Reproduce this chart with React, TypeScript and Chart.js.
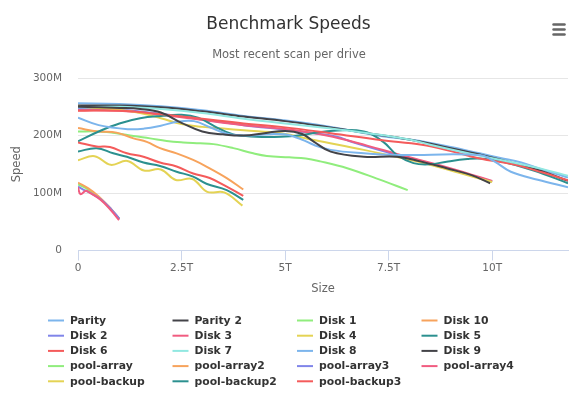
import React, { useEffect, useRef } from "react";
import { Chart, registerables } from "chart.js";

Chart.register(...registerables);

type Pt = [number, number]; // [size in T, speed in M]

const chartTitle = "Benchmark Speeds";
const chartSubtitle = "Most recent scan per drive";

const seriesNames = [
  "Parity", "Parity 2", "Disk 1", "Disk 10", "Disk 2", "Disk 3", "Disk 4",
  "Disk 5", "Disk 6", "Disk 7", "Disk 8", "Disk 9", "pool-array", "pool-array2",
  "pool-array3", "pool-array4", "pool-backup", "pool-backup2", "pool-backup3",
];

const palette = [
  "#7cb5ec", "#434348", "#90ed7d", "#f7a35c", "#8085e9",
  "#f15c80", "#e4d354", "#2b908f", "#f45b5b", "#91e8e1",
];

const parity: Pt[] = [[0, 256], [1, 255], [2, 251], [3, 244], [4, 234], [4.9, 227], [6, 216], [7.3, 199], [8.1, 192], [9, 180], [9.7, 169], [10.2, 161], [10.7, 153], [11.2, 141], [11.83, 127]];
const parity2: Pt[] = [[0, 252], [1, 252], [2, 249], [3, 242], [4, 233], [5, 225], [6, 215], [7, 204], [8, 193], [9, 178], [9.7, 167], [10.5, 152], [11.2, 138], [11.83, 121]];
const disk1: Pt[] = [[0, 207], [0.5, 207], [0.93, 204], [1.34, 199], [1.74, 195], [2.14, 190.5], [2.54, 188], [2.95, 186.5], [3.27, 185], [3.75, 178], [4.23, 169], [4.56, 164.5], [5.1, 162], [5.5, 160], [5.85, 155], [6.5, 143], [7.2, 125.5], [7.96, 105]];
const disk10: Pt[] = [[0, 213], [0.48, 207], [0.93, 205], [1.34, 195], [1.66, 189], [1.98, 178], [2.38, 169], [2.78, 157.5], [3.1, 146], [3.59, 126], [3.99, 106]];
const disk2: Pt[] = [[0, 246], [1, 245], [2, 238], [3, 228], [4, 218], [5, 210], [5.7, 204], [6.25, 198], [6.6, 189], [7.5, 170], [8.5, 150], [9.3, 135], [10, 120]];
const disk3: Pt[] = [[0, 244], [1, 243], [2, 236], [3, 227], [4, 218], [4.9, 212], [6, 200], [7, 182], [7.7, 168], [8.9, 145], [9.5, 132], [10, 121]];
const disk4: Pt[] = [[0, 250], [0.5, 248], [1, 245], [1.5, 239], [2, 230], [2.5, 220], [3, 215], [3.5, 212], [4, 209], [4.9, 204], [5.7, 192], [6.9, 175], [7.86, 160], [8.5, 149], [9.2, 135], [10, 119]];
const disk5: Pt[] = [[0, 190], [0.5, 207], [1, 221], [1.5, 230], [2, 234], [2.5, 236], [2.9, 231], [3.3, 216], [3.75, 202], [4.3, 198], [4.9, 198], [5.4, 201], [6.1, 208], [6.9, 207], [7.37, 189], [7.7, 166], [8.1, 152], [8.5, 150], [8.9, 154.5], [9.4, 159], [9.7, 160], [10.2, 155], [11, 139], [11.83, 117]];
const disk6: Pt[] = [[0, 243], [1, 243], [2, 237], [3, 229], [4, 221], [4.9, 215], [6.1, 204], [7.3, 192], [8.3, 184], [9, 173], [9.7, 160], [10.5, 150], [11.2, 136], [11.83, 122]];
const disk7: Pt[] = [[0, 249], [1, 250], [2, 246], [3, 239], [4, 229], [5, 221], [6, 213], [7, 204], [8, 193], [8.5, 184], [9.5, 168], [10.5, 153], [11.2, 142], [11.83, 130]];
const disk8: Pt[] = [[0, 231], [0.5, 218], [1.2, 211], [1.6, 212], [2, 217], [2.4, 224], [2.8, 225], [3.2, 214], [3.6, 203], [4, 200], [4.6, 202], [5, 202], [5.4, 193], [5.7, 183.5], [6.1, 175], [6.9, 169], [7.7, 166], [9.7, 166], [10.05, 155], [10.45, 137], [11.1, 123], [11.83, 110]];
const disk9: Pt[] = [[0, 250], [0.5, 249], [1, 248], [1.5, 246], [2, 240], [2.5, 222], [3, 207], [3.5, 202], [4, 200], [4.5, 204], [5, 208], [5.4, 203], [5.7, 189], [6.1, 172], [6.9, 163], [7.7, 163], [8.26, 155], [8.9, 143], [9.5, 131], [9.95, 117]];
const poolArray: Pt[] = [[0, 115], [0.25, 106], [0.5, 92], [0.75, 75], [1, 55]];
const poolArray2: Pt[] = [[0, 118], [0.25, 108], [0.5, 94], [0.75, 76], [1, 55]];
const poolArray3: Pt[] = [[0, 111], [0.15, 105], [0.3, 100], [0.55, 89], [0.8, 72], [1, 55]];
const poolArray4: Pt[] = [[0, 110], [0.06, 98], [0.19, 104], [0.27, 101], [0.55, 88], [0.79, 70.5], [0.99, 53]];
const poolBackup: Pt[] = [[0, 157], [0.4, 164], [0.79, 149], [1.19, 155.7], [1.59, 139], [2, 141], [2.36, 122.7], [2.76, 124.4], [3.12, 102], [3.53, 101], [3.97, 78]];
const poolBackup2: Pt[] = [[0, 172], [0.45, 178], [0.85, 169], [1.18, 163], [1.58, 153], [1.98, 147], [2.38, 137], [2.78, 128.5], [3.1, 116], [3.59, 105], [3.99, 88]];
const poolBackup3: Pt[] = [[0, 188], [0.45, 181], [0.77, 180], [1.18, 169], [1.58, 163], [1.98, 153], [2.38, 146], [2.78, 134], [3.18, 126], [3.59, 111], [3.99, 95]];

const seriesData: Pt[][] = [
  parity, parity2, disk1, disk10, disk2, disk3, disk4, disk5, disk6, disk7,
  disk8, disk9, poolArray, poolArray2, poolArray3, poolArray4, poolBackup,
  poolBackup2, poolBackup3,
];

const xTicks = [0, 2.5, 5, 7.5, 10];
const yTicks = [0, 100, 200, 300];
const sizeMax = 11.83;

const FONT = '"DejaVu Sans", sans-serif';
const LEGEND_COLS = 4;

// Title block, drawn centred a little right of the canvas middle
const headerText = {
  id: "headerText",
  afterDraw(chart: any) {
    const ctx = chart.ctx as CanvasRenderingContext2D;
    ctx.save();
    ctx.textAlign = "center";
    ctx.textBaseline = "middle";
    ctx.fillStyle = "#333333";
    ctx.font = `17px ${FONT}`;
    ctx.fillText(chartTitle, 288.5, 24.5);
    ctx.fillStyle = "#666666";
    ctx.font = `11.5px ${FONT}`;
    ctx.fillText(chartSubtitle, 289, 55);
    ctx.restore();
  },
};

// Fixed four-column legend under the plot
const gridLegend = {
  id: "gridLegend",
  afterDraw(chart: any) {
    const ctx = chart.ctx as CanvasRenderingContext2D;
    ctx.save();
    ctx.font = `bold 10.8px ${FONT}`;
    ctx.textBaseline = "middle";
    ctx.textAlign = "left";
    chart.data.datasets.forEach((ds: any, i: number) => {
      const col = i % LEGEND_COLS;
      const row = Math.floor(i / LEGEND_COLS);
      const x = 48 + col * 124.5;
      const y = 320.5 + row * 15.2;
      ctx.strokeStyle = ds.borderColor;
      ctx.lineWidth = 2;
      ctx.beginPath();
      ctx.moveTo(x, y);
      ctx.lineTo(x + 16, y);
      ctx.stroke();
      ctx.fillStyle = "#333333";
      ctx.fillText(ds.label, x + 22, y + 0.5);
    });
    ctx.restore();
  },
};

const menuIcon = {
  id: "menuIcon",
  afterDraw(chart: any) {
    const ctx = chart.ctx as CanvasRenderingContext2D;
    ctx.save();
    ctx.strokeStyle = "#666666";
    ctx.lineWidth = 2.5;
    ctx.lineCap = "round";
    [24.5, 29.5, 34.5].forEach((y) => {
      ctx.beginPath();
      ctx.moveTo(553.5, y);
      ctx.lineTo(564.5, y);
      ctx.stroke();
    });
    ctx.restore();
  },
};

export default function App() {
  const canvasRef = useRef<HTMLCanvasElement | null>(null);

  useEffect(() => {
    if (!canvasRef.current) return;
    const n = seriesData.length;
    const chart = new Chart(canvasRef.current, {
      type: "line",
      data: {
        datasets: seriesData.map((pts, i) => ({
          label: seriesNames[i],
          data: pts.map(([x, y]) => ({ x, y })),
          borderColor: palette[i % palette.length],
          backgroundColor: palette[i % palette.length],
          borderWidth: 2,
          pointRadius: 0,
          pointHoverRadius: 0,
          tension: 0.4,
          fill: false,
          order: n - i,
        })),
      },
      options: {
        responsive: false,
        animation: false,
        devicePixelRatio: 1,
        layout: { padding: { top: 78, left: 0, right: 1, bottom: 95.5 } },
        plugins: {
          legend: { display: false },
          tooltip: { enabled: false },
          title: { display: false },
          subtitle: { display: false },
        },
        scales: {
          x: {
            type: "linear",
            min: 0,
            max: sizeMax,
            afterFit: (scale: any) => {
              scale.height = 50;
            },
            afterBuildTicks: (scale: any) => {
              scale.ticks = xTicks.map((value) => ({ value }));
            },
            ticks: {
              color: "#666666",
              font: { family: FONT, size: 10.5 },
              padding: 1,
              maxRotation: 0,
              includeBounds: false,
              callback: (v: any) => (Number(v) === 0 ? "0" : `${v}T`),
            },
            grid: {
              display: true,
              drawOnChartArea: false,
              drawTicks: true,
              tickLength: 10,
              color: "#ccd6eb",
            },
            border: { display: true, color: "#ccd6eb", width: 1 },
            title: {
              display: true,
              text: "Size",
              color: "#666666",
              font: { family: FONT, size: 11.5 },
              padding: { top: 0, bottom: 4.5 },
            },
          },
          y: {
            type: "linear",
            min: 0,
            max: 300,
            afterFit: (scale: any) => {
              scale.width = 78;
            },
            afterBuildTicks: (scale: any) => {
              scale.ticks = yTicks.map((value) => ({ value }));
            },
            ticks: {
              color: "#666666",
              font: { family: FONT, size: 10.5 },
              padding: 16,
              callback: (v: any) => (Number(v) === 0 ? "0" : `${v}M`),
            },
            grid: { color: "#e6e6e6", drawTicks: false },
            border: { display: false },
            title: {
              display: true,
              text: "Speed",
              color: "#666666",
              font: { family: FONT, size: 11.5 },
              padding: { top: 9.8, bottom: 0 },
            },
          },
        },
      },
      plugins: [headerText, gridLegend, menuIcon],
    });
    return () => chart.destroy();
  }, []);

  return (
    <div style={{ position: "fixed", left: 0, top: 0, width: 569, height: 396, background: "#ffffff" }}>
      <canvas ref={canvasRef} width={569} height={396} style={{ display: "block" }} />
    </div>
  );
}
